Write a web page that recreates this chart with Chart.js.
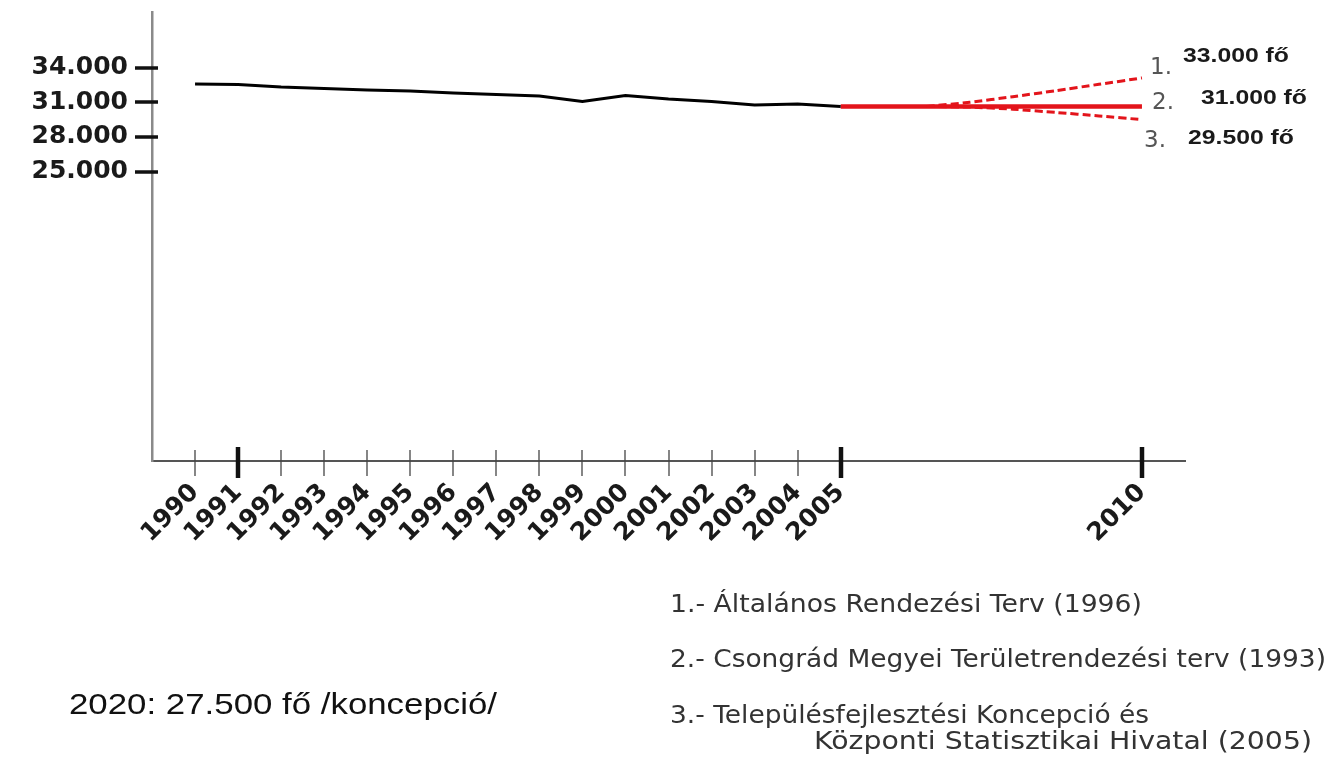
<!DOCTYPE html>
<html>
<head>
<meta charset="utf-8">
<script src="https://cdn.jsdelivr.net/npm/chart.js@4.4.0/dist/chart.umd.min.js"></script>
<style>
html,body{margin:0;padding:0;background:#fff;width:1341px;height:761px;overflow:hidden;}
#wrap{position:relative;width:1341px;height:761px;}
#c{position:absolute;left:0;top:0;}
.t{position:absolute;white-space:nowrap;transform-origin:0 0;line-height:1;}
.num{font-family:"DejaVu Sans",sans-serif;font-size:23px;color:#555;}
.val{font-family:"Liberation Sans",Arial,sans-serif;font-weight:bold;font-size:20px;color:#1a1a1a;}
.leg{font-family:"DejaVu Sans",sans-serif;font-size:24px;color:#333;}
.big{font-family:"Liberation Sans",Arial,sans-serif;font-size:30px;color:#111;}
</style>
</head>
<body>
<div id="wrap">
<canvas id="c" width="1341" height="761"></canvas>
<div class="t num" style="left:1150px;top:55px">1.</div>
<div class="t val" data-w="106" style="left:1183px;top:45px">33.000 fő</div>
<div class="t num" style="left:1152px;top:90px">2.</div>
<div class="t val" data-w="106" style="left:1201px;top:87px">31.000 fő</div>
<div class="t num" style="left:1144px;top:128px">3.</div>
<div class="t val" data-w="106" style="left:1188px;top:127px">29.500 fő</div>
<div class="t leg" data-w="472" style="left:670px;top:592px">1.- Általános Rendezési Terv (1996)</div>
<div class="t leg" data-w="656" style="left:670px;top:647px">2.- Csongrád Megyei Területrendezési terv (1993)</div>
<div class="t leg" data-w="479" style="left:670px;top:703px">3.- Településfejlesztési Koncepció és</div>
<div class="t leg" data-w="498" style="left:814px;top:729px">Központi Statisztikai Hivatal (2005)</div>
<div class="t big" data-w="428" style="left:69px;top:689px">2020: 27.500 fő /koncepció/</div>
</div>
<script>
// ---- data ----
const categories = ['', '1990','1991','1992','1993','1994','1995','1996','1997','1998','1999','2000','2001','2002','2003','2004','2005', '', '', '', '', '', '', '2010', ''];
const observedYears = ['1990','1991','1992','1993','1994','1995','1996','1997','1998','1999','2000','2001','2002','2003','2004','2005'];
const observedPop = [32580, 32540, 32320, 32190, 32060, 31975, 31800, 31670, 31540, 31070, 31585, 31280, 31070, 30765, 30850, 30635];
// projections (aligned with categories; null = no value)
const scenario2Solid = [null,null,null,null,null,null,null,null,null,null,null,null,null,null,null,null, 30635, 30635, 30635, 30635, 30635, 30635, 30635, 30635, null];
const scenario1Upper = [null,null,null,null,null,null,null,null,null,null,null,null,null,null,null,null,null,null, 30640, 31000, 31480, 32000, 32550, 33100, null];
const scenario3Lower = [null,null,null,null,null,null,null,null,null,null,null,null,null,null,null,null,null,null, 30640, 30580, 30400, 30120, 29820, 29500, null];
const yTickValues = [25000, 28000, 31000, 34000];
const boldTickLabels = ['1991', '2005', '2010'];

const observedSeries = categories.map(c => {
  const i = observedYears.indexOf(c);
  return i >= 0 ? observedPop[i] : null;
});

const fmt = v => String(v).replace(/\B(?=(\d{3})+(?!\d))/g, '.');

const tickMarks = {
  id: 'tickMarks',
  afterDraw(chart) {
    const ctx = chart.ctx, xs = chart.scales.x, ys = chart.scales.y;
    ctx.save();
    ctx.lineCap = 'butt';
    xs.ticks.forEach((t, i) => {
      const lab = categories[t.value];
      if (!lab) return;
      const px = Math.round(xs.getPixelForTick(i));
      const bold = boldTickLabels.includes(lab);
      ctx.strokeStyle = bold ? '#111' : '#444';
      ctx.lineWidth = bold ? 4.5 : 1.3;
      ctx.beginPath();
      ctx.moveTo(px, xs.top - (bold ? 14 : 11));
      ctx.lineTo(px, xs.top + (bold ? 17 : 15));
      ctx.stroke();
    });
    ys.ticks.forEach(t => {
      const py = Math.round(ys.getPixelForValue(t.value));
      ctx.strokeStyle = '#111';
      ctx.lineWidth = 3.5;
      ctx.beginPath();
      ctx.moveTo(ys.right - 17, py);
      ctx.lineTo(ys.right + 6, py);
      ctx.stroke();
    });
    ctx.restore();
  }
};

const noPad = s => { s.paddingTop = 0; s.paddingBottom = 0; s.paddingLeft = 0; s.paddingRight = 0; };

new Chart(document.getElementById('c'), {
  type: 'line',
  data: {
    labels: categories,
    datasets: [
      { data: observedSeries, borderColor: '#000', borderWidth: 3, pointRadius: 0, tension: 0, spanGaps: false },
      { data: scenario1Upper, borderColor: '#e3141b', borderWidth: 3, borderDash: [8, 4], pointRadius: 0, tension: 0.2 },
      { data: scenario3Lower, borderColor: '#e3141b', borderWidth: 3, borderDash: [8, 4], pointRadius: 0, tension: 0.2 },
      { data: scenario2Solid, borderColor: '#e3141b', borderWidth: 4.5, pointRadius: 0, tension: 0 }
    ]
  },
  options: {
    responsive: false,
    animation: false,
    layout: { padding: { top: 12, right: 156, left: 0, bottom: 0 } },
    plugins: { legend: { display: false }, tooltip: { enabled: false } },
    scales: {
      x: {
        type: 'category',
        offset: false,
        grid: { display: false, drawTicks: false, tickLength: 0 },
        border: { display: true, color: '#555', width: 2 },
        ticks: {
          autoSkip: false, maxRotation: 45, minRotation: 45, padding: 17,
          color: '#1a1a1a',
          font: { family: '"DejaVu Sans", Verdana, sans-serif', size: 25, weight: 'bold' }
        },
        afterFit: s => { s.height = 300; noPad(s); }
      },
      y: {
        min: 0, max: 38800,
        grid: { display: false, drawTicks: false, tickLength: 0 },
        border: { display: true, color: '#8a8a8a', width: 2.5 },
        afterBuildTicks: s => { s.ticks = yTickValues.map(v => ({ value: v })); },
        ticks: {
          padding: 24, color: '#1a1a1a',
          font: { family: '"DejaVu Sans", Verdana, sans-serif', size: 25, weight: 'bold' },
          callback: v => fmt(v)
        },
        afterFit: s => { s.width = 152; noPad(s); }
      }
    }
  },
  plugins: [tickMarks]
});

// fit overlay texts horizontally to the reference widths
document.querySelectorAll('.t[data-w]').forEach(el => {
  const w = el.getBoundingClientRect().width;
  const target = parseFloat(el.dataset.w);
  el.style.transform = 'scaleX(' + (target / w) + ')';
});
</script>
</body>
</html>
